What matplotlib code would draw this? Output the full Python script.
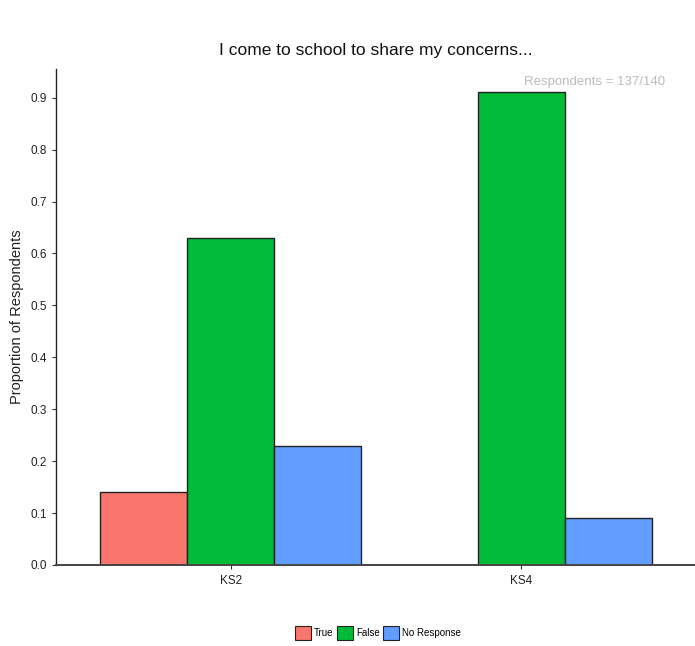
import matplotlib
matplotlib.use('Agg')
import matplotlib.pyplot as plt
from matplotlib.patches import Patch
import numpy as np

plt.rcParams['font.family'] = ['Liberation Sans', 'DejaVu Sans']

# Data
groups = ['KS2', 'KS4']
responses = ['True', 'False', 'No Response']
true_vals = [0.14, 0.0]
false_vals = [0.63, 0.91]
noresp_vals = [0.23, 0.09]
colours = ['#F8766D', '#00BA38', '#619CFF']
title = 'I come to school to share my concerns...'
note = 'Respondents = 137/140'

fig = plt.figure(figsize=(6.95, 6.46), dpi=100)
ax = fig.add_axes([0.081, 0.1254, 0.92, 0.768])

x = np.arange(1, len(groups) + 1)
width = 0.3
for i, vals in enumerate([true_vals, false_vals, noresp_vals]):
    ax.bar(x + (i - 1) * width, vals, width=width, color=colours[i],
           edgecolor='#222222', linewidth=1.0, zorder=2)

ax.set_xlim(0.4, 2.6)
ax.set_ylim(0, 0.9555)
ax.set_xticks(x)
ax.set_xticklabels(groups)
ax.set_yticks(np.arange(0, 0.91, 0.1))
ax.set_yticklabels(['%.1f' % v for v in np.arange(0, 0.91, 0.1)])

for side in ['top', 'right']:
    ax.spines[side].set_visible(False)
ax.spines['left'].set_color('#222222')
ax.spines['bottom'].set_color('#444444')
ax.spines['left'].set_linewidth(1.0)
ax.spines['bottom'].set_linewidth(1.4)
ax.tick_params(axis='both', labelsize=8.5, colors='#333333', length=3, width=0.8)
ax.tick_params(axis='y', labelcolor='#222222')
ax.tick_params(axis='x', labelcolor='#222222', pad=4)

ax.set_ylabel('Proportion of Respondents', fontsize=10.5, color='#222222', labelpad=5)
fig.text(0.541, 0.922, title, ha='center', va='center', fontsize=12.5, color='#111111')
fig.text(0.957, 0.873, note, ha='right', va='center', fontsize=9.5, color='#BBBBBB')

handles = [Patch(facecolor=c, edgecolor='#222222', linewidth=0.8, label=r)
           for c, r in zip(colours, responses)]
fig.legend(handles=handles, loc='center', bbox_to_anchor=(0.544, 0.02),
           ncol=3, frameon=False, fontsize=7, handlelength=1.6, handleheight=1.8,
           handletextpad=0.3, columnspacing=0.4)

fig.savefig('out.png', dpi=100)
